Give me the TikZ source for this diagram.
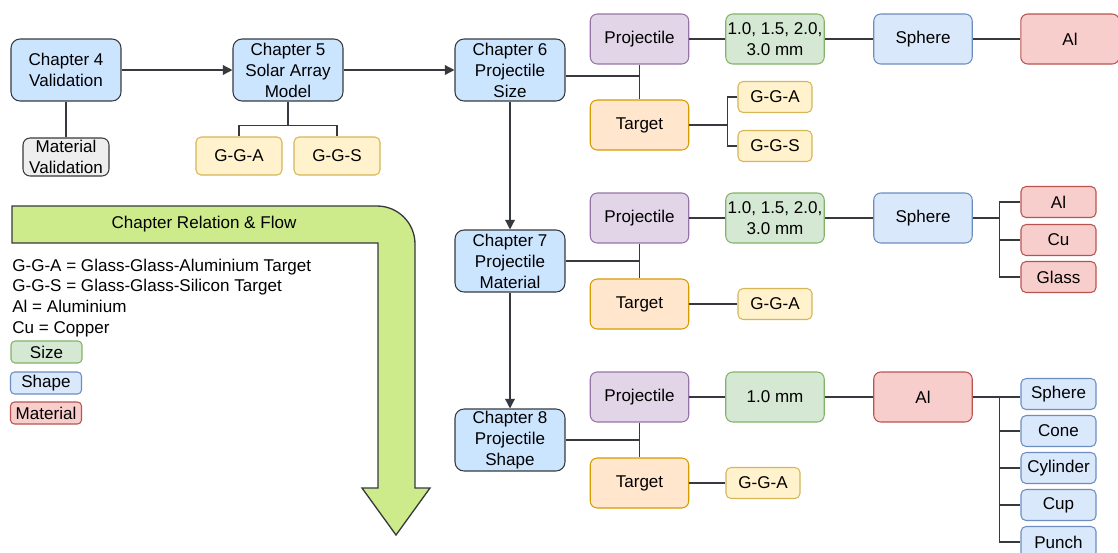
\documentclass[tikz,border=0pt]{standalone}
\usepackage{fontspec}
\setmainfont{Liberation Sans}
\usetikzlibrary{arrows.meta, positioning}

\definecolor{chapfill}{HTML}{CCE5FF}
\definecolor{darkline}{HTML}{36393D}
\definecolor{greyfill}{HTML}{EEEEEE}
\definecolor{ggfill}{HTML}{FFF2CC}
\definecolor{ggline}{HTML}{D6B656}
\definecolor{projfill}{HTML}{E1D5E7}
\definecolor{projline}{HTML}{9673A6}
\definecolor{sizefill}{HTML}{D5E8D4}
\definecolor{sizeline}{HTML}{82B366}
\definecolor{shapefill}{HTML}{DAE8FC}
\definecolor{shapeline}{HTML}{6C8EBF}
\definecolor{matfill}{HTML}{F8CECC}
\definecolor{matline}{HTML}{B85450}
\definecolor{targfill}{HTML}{FFE6CC}
\definecolor{targline}{HTML}{D79B00}
\definecolor{flowfill}{HTML}{CDEB8B}

\begin{document}
\begin{tikzpicture}[x=0.02cm, y=-0.02cm,
    every node/.style={font=\fontsize{9.7}{11.9}\selectfont, align=center, inner sep=0pt},
    box/.style={rectangle, rounded corners=0.14cm, line width=0.6pt, minimum width=1.97cm, minimum height=1.0cm},
    chapter/.style={box, draw=darkline, fill=chapfill, rounded corners=0.18cm, minimum width=2.2cm, minimum height=1.24cm},
    greybox/.style={box, draw=darkline, fill=greyfill, minimum width=1.72cm, minimum height=0.76cm},
    projbox/.style={box, draw=projline, fill=projfill},
    targbox/.style={box, draw=targline, fill=targfill},
    sizebox/.style={box, draw=sizeline, fill=sizefill},
    shapebox/.style={box, draw=shapeline, fill=shapefill},
    matbox/.style={box, draw=matline, fill=matfill},
    ggbox/.style={box, draw=ggline, fill=ggfill, rounded corners=0.1cm, minimum width=1.48cm, minimum height=0.62cm},
    listbox/.style={rounded corners=0.1cm, minimum width=1.5cm, minimum height=0.62cm},
    keybox/.style={rounded corners=0.08cm, minimum width=1.42cm, minimum height=0.44cm},
    conn/.style={draw=darkline, line width=0.75pt},
    arr/.style={conn, -{Triangle[length=5.5pt, width=5.5pt]}}
]
    \useasboundingbox (0,0) rectangle (1118,552);

    % flow arrow and key
    \draw[draw=darkline, fill=flowfill, line width=0.75pt]
        (12,206) -- (377,206) .. controls (398,206) and (415,223) .. (415,244)
        -- (415,488) -- (430,488) -- (396,535) -- (362,488) -- (378,488)
        -- (378,243) -- (12,243) -- cycle;
    \node (flow) at (204,224) {Chapter Relation \& Flow};
    \node[anchor=west, align=left] (abbr) at (12,298) {G-G-A = Glass-Glass-Aluminium Target\\ G-G-S = Glass-Glass-Silicon Target\\ Al = Aluminium\\ Cu = Copper};
    \node[box, sizebox, keybox] (keysize) at (46.5,352) {Size};
    \node[box, shapebox, keybox] (keyshape) at (46,383) {Shape};
    \node[box, matbox, keybox] (keymat) at (46,413) {Material};

    % chapters
    \node[chapter] (ch4) at (66,70) {Chapter 4\\ Validation};
    \node[greybox] (matval) at (66,157) {Material\\ Validation};
    \node[chapter] (ch5) at (288,70) {Chapter 5\\ Solar Array\\ Model};
    \node[ggbox, minimum width=1.72cm, minimum height=0.76cm] (gga5) at (239,156) {G-G-A};
    \node[ggbox, minimum width=1.72cm, minimum height=0.76cm] (ggs5) at (337,156) {G-G-S};
    \node[chapter] (ch6) at (510,70) {Chapter 6\\ Projectile\\ Size};
    \node[chapter] (ch7) at (510,261) {Chapter 7\\ Projectile\\ Material};
    \node[chapter] (ch8) at (510,440) {Chapter 8\\ Projectile\\ Shape};

    % chapter 6
    \node[projbox] (proj6) at (639.5,39) {Projectile};
    \node[sizebox] (size6) at (775,39) {1.0, 1.5, 2.0,\\ 3.0 mm};
    \node[shapebox] (sph6) at (923,39) {Sphere};
    \node[matbox] (al6) at (1070,39) {Al};
    \node[targbox] (targ6) at (639.5,125) {Target};
    \node[ggbox] (gga6) at (775,97) {G-G-A};
    \node[ggbox] (ggs6) at (775,146) {G-G-S};

    % chapter 7
    \node[projbox] (proj7) at (639.5,218) {Projectile};
    \node[sizebox] (size7) at (775,218) {1.0, 1.5, 2.0,\\ 3.0 mm};
    \node[shapebox] (sph7) at (923,218) {Sphere};
    \node[matbox, listbox] (al7) at (1058.5,202) {Al};
    \node[matbox, listbox] (cu7) at (1058.5,240) {Cu};
    \node[matbox, listbox] (gl7) at (1058.5,277) {Glass};
    \node[targbox] (targ7) at (639.5,304) {Target};
    \node[ggbox] (gga7) at (775,304) {G-G-A};

    % chapter 8
    \node[projbox] (proj8) at (639.5,397) {Projectile};
    \node[sizebox] (size8) at (775,397) {1.0 mm};
    \node[matbox] (al8) at (923,397) {Al};
    \node[shapebox, listbox] (sph8) at (1058.5,394) {Sphere};
    \node[shapebox, listbox] (cone8) at (1058.5,431) {Cone};
    \node[shapebox, listbox] (cyl8) at (1058.5,468) {Cylinder};
    \node[shapebox, listbox] (cup8) at (1058.5,505) {Cup};
    \node[shapebox, listbox] (pun8) at (1058.5,542) {Punch};
    \node[targbox] (targ8) at (639.5,483) {Target};
    \node[ggbox] (gga8) at (763,483) {G-G-A};

    % flow between chapters
    \draw[arr] (ch4) -- (ch5);
    \draw[arr] (ch5) -- (ch6);
    \draw[arr] (ch6) -- (ch7);
    \draw[arr] (ch7) -- (ch8);
    \draw[conn] (ch4) -- (matval);
    \draw[conn] (ch5.south) -- ++(0,24) coordinate (j5) -| (gga5.north);
    \draw[conn] (j5) -| (ggs5.north);

    % chapter 6 links
    \draw[conn] ([yshift=-0.12cm]ch6.east) -| (proj6.south);
    \draw[conn] (proj6) -- (targ6);
    \draw[conn] (proj6) -- (size6);
    \draw[conn] (size6) -- (sph6);
    \draw[conn] (sph6) -- (al6);
    \draw[conn] (targ6.east) -- ++(38,0) coordinate (jt6) |- (gga6.west);
    \draw[conn] (jt6) |- (ggs6.west);

    % chapter 7 links
    \draw[conn] (ch7.east) -| (proj7.south);
    \draw[conn] (proj7) -- (targ7);
    \draw[conn] (proj7) -- (size7);
    \draw[conn] (size7) -- (sph7);
    \draw[conn] (sph7.east) -- ++(27,0) coordinate (js7) |- (al7.west);
    \draw[conn] (js7) |- (cu7.west);
    \draw[conn] (js7) |- (gl7.west);
    \draw[conn] (targ7) -- (gga7);

    % chapter 8 links
    \draw[conn] (ch8.east) -| (proj8.south);
    \draw[conn] (proj8) -- (targ8);
    \draw[conn] (proj8) -- (size8);
    \draw[conn] (size8) -- (al8);
    \draw[conn] (al8.east) -- ++(27,0) coordinate (ja8) -- (ja8 -| sph8.west);
    \draw[conn] (ja8) |- (cone8.west);
    \draw[conn] (ja8) |- (cyl8.west);
    \draw[conn] (ja8) |- (cup8.west);
    \draw[conn] (ja8) |- (pun8.west);
    \draw[conn] (targ8) -- (gga8);
\end{tikzpicture}
\end{document}
